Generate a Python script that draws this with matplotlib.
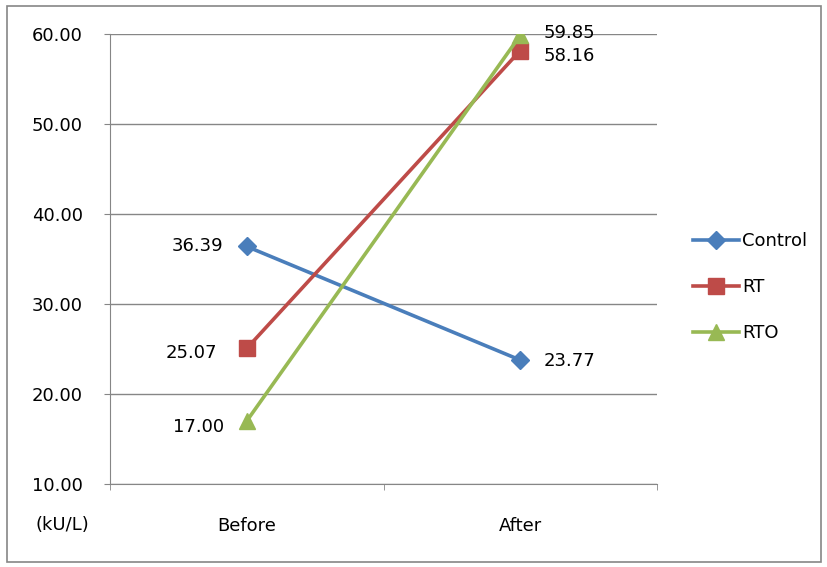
import numpy as np
import matplotlib.pyplot as plt
from matplotlib.patches import Rectangle

categories = ['Before', 'After']
control = [36.39, 23.77]
rt = [25.07, 58.16]
rto = [17.00, 59.85]

fig = plt.figure(figsize=(8.27, 5.67), dpi=100)
ax = fig.add_axes([110 / 827, 1 - 484 / 567, 547 / 827, 450 / 567])

x = np.arange(len(categories))
ax.plot(x, control, color='#4a7ebb', lw=2.6, marker='D', ms=9.5, label='Control')
ax.plot(x, rt, color='#be4b48', lw=2.6, marker='s', ms=11, label='RT')
ax.plot(x, rto, color='#98b954', lw=2.6, marker='^', ms=12, label='RTO')

# data labels: (value, x index, offset in points)
fs = 13
labels = [
    (control[0], 0, (-17, 0)),
    (control[1], 1, (17, -1)),
    (rt[0], 0, (-21, -3)),
    (rt[1], 1, (17, -4)),
    (rto[0], 0, (-16, -4)),
    (rto[1], 1, (17, 2)),
]
for val, i, off in labels:
    ax.annotate(f'{val:.2f}', (x[i], val), xytext=off, textcoords='offset points',
                ha='right' if off[0] < 0 else 'left', va='center', fontsize=fs)

ax.set_xlim(-0.5, 1.5)
ax.set_ylim(10, 60)
ax.set_yticks(np.arange(10, 61, 10))
ax.set_yticklabels([f'{v:.2f}' for v in np.arange(10, 61, 10)], fontsize=fs)
ax.set_xticks(x)
ax.set_xticklabels(categories, fontsize=fs)
ax.tick_params(axis='x', length=0, pad=24)
ax.set_xticks([-0.5, 0.5, 1.5], minor=True)
ax.tick_params(axis='x', which='minor', length=4.5, color='#868686', direction='out')
ax.tick_params(axis='y', length=4.5, color='#868686', pad=15)
ax.grid(axis='y', color='#868686', lw=1)
ax.set_axisbelow(True)
for s in ['top', 'right']:
    ax.spines[s].set_visible(False)
for s in ['left', 'bottom']:
    ax.spines[s].set_color('#868686')

fig.text(62 / 827, 1 - 525 / 567, '(kU/L)', ha='center', va='center', fontsize=fs)

fig.legend(loc='center left', bbox_to_anchor=(677 / 827, 1 - 287 / 567), frameon=False,
           fontsize=fs, labelspacing=1.55, handlelength=2.55, handletextpad=0.15)

fig.add_artist(Rectangle((7 / 827, 5 / 567), 814 / 827, 556 / 567, transform=fig.transFigure,
                         fill=False, edgecolor='#868686', lw=1.2))

fig.savefig('out.png', dpi=100)
